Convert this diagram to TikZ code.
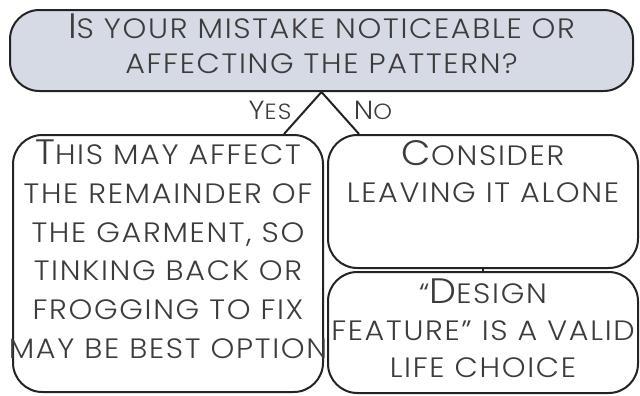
\documentclass[tikz,border=0pt]{standalone}
\usepackage{fontspec}
\setmainfont{Poppins}[UprightFont=* Light, FakeStretch=1.08, LetterSpace=6]
\usetikzlibrary{positioning}
\definecolor{qfill}{RGB}{214,218,228}
\definecolor{ink}{RGB}{35,35,35}
\definecolor{txtgray}{RGB}{60,60,60}
\newcommand\initcap[1]{{\fontsize{26.5}{26.5}\selectfont #1}}
\tikzset{
 box/.style={draw=ink,line width=1.5pt,rounded corners=22pt,inner sep=0pt},
 boxtext/.style={text=txtgray,align=center,inner sep=0pt,anchor=north},
 link/.style={draw=ink,line width=1.5pt},
 answer/.style={text=txtgray,inner sep=0pt,font=\fontsize{16.5}{16.5}\selectfont},
}
\begin{document}
\begin{tikzpicture}[x=0.75pt,y=-0.75pt]
 \useasboundingbox (0,0) rectangle (640,396);
 \node[box,fill=qfill,minimum width=467.25pt,minimum height=60.75pt] (question) at (321.5,50.5) {};
 \node[box,minimum width=232.5pt,minimum height=192.75pt] (yesbox) at (168,263.5) {};
 \node[box,minimum width=232.5pt,minimum height=99.75pt] (nobox) at (483,201.5) {};
 \node[box,minimum width=232.5pt,minimum height=90.75pt] (designbox) at (483,332.5) {};
 \node[boxtext,font=\fontsize{21}{26.25}\selectfont] (questiontext) at (321.5,14) {\initcap{I}S YOUR MISTAKE NOTICEABLE OR\\AFFECTING THE PATTERN?};
 \node[boxtext,font=\fontsize{21}{29}\selectfont] (yestext) at (168,140) {\initcap{T}HIS MAY AFFECT\\THE REMAINDER OF\\THE GARMENT, SO\\TINKING BACK OR\\FROGGING TO FIX\\MAY BE BEST OPTION};
 \node[boxtext,font=\fontsize{21}{27.75}\selectfont] (notext) at (483,140) {\initcap{C}ONSIDER\\LEAVING IT ALONE};
 \node[boxtext,font=\fontsize{21}{27.75}\selectfont] (designtext) at (483,279) {“\initcap{D}ESIGN\\FEATURE” IS A VALID\\LIFE CHOICE};
 \draw[link] ([xshift=-30pt]yesbox.north east) -- (question.south) -- ([xshift=24pt]nobox.north west);
 \draw[link] (nobox.south) -- (designbox.north);
 \node[answer] (yes) at (270,110) {{\fontsize{19.7}{19.7}\selectfont Y}ES};
 \node[answer] (no) at (373,110) {{\fontsize{19.7}{19.7}\selectfont N}O};
\end{tikzpicture}
\end{document}
